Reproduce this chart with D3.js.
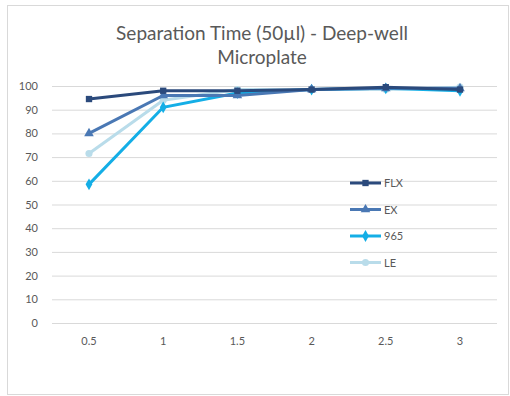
<!DOCTYPE html>
<html>
<head>
<meta charset="utf-8">
<script src="https://cdn.jsdelivr.net/npm/d3@7"></script>
<style>
  body { margin: 0; background: #fff; }
  svg { display: block; font-family: Lato, "Open Sans", sans-serif; }
</style>
</head>
<body>
<script>
// values
var times = ['0.5', '1', '1.5', '2', '2.5', '3'];
var flx = [94.5, 98, 98, 98.5, 99.5, 98.5];
var ex = [80, 96, 96, 98.5, 99, 99];
var s965 = [58.5, 91, 97, 98.5, 99, 98];
var le = [71.5, 94, 98.5, 98.5, 98.5, 99.5];
var yTicks = [0, 10, 20, 30, 40, 50, 60, 70, 80, 90, 100];

var series = [
  { name: 'FLX', values: flx, color: '#2b4a7c', marker: 'square' },
  { name: 'EX', values: ex, color: '#4a78b4', marker: 'triangle' },
  { name: '965', values: s965, color: '#14aee6', marker: 'diamond' },
  { name: 'LE', values: le, color: '#b9dcea', marker: 'circle' }
];

var width = 510, height = 396;
var svg = d3.select('body').append('svg')
  .attr('width', width)
  .attr('height', height);

svg.append('rect')
  .attr('x', 7.5).attr('y', 5.5)
  .attr('width', 501).attr('height', 389)
  .attr('fill', '#fff')
  .attr('stroke', '#d9d9d9');

// title
svg.append('text')
  .attr('x', 262).attr('y', 40)
  .attr('text-anchor', 'middle')
  .attr('font-size', 19).attr('fill', '#595959')
  .text('Separation Time (50µl) - Deep-well');
svg.append('text')
  .attr('x', 262).attr('y', 64)
  .attr('text-anchor', 'middle')
  .attr('font-size', 19).attr('fill', '#595959')
  .text('Microplate');

var x = d3.scalePoint().domain(times).range([89, 460]);
var y = d3.scaleLinear().domain([0, 100]).range([323, 86]);

// gridlines
svg.append('g').selectAll('line').data(yTicks).enter().append('line')
  .attr('x1', 52).attr('x2', 497)
  .attr('y1', function(d) { return y(d) + 0.5; })
  .attr('y2', function(d) { return y(d) + 0.5; })
  .attr('stroke', '#d9d9d9');

// y labels
svg.append('g').selectAll('text').data(yTicks).enter().append('text')
  .attr('x', 38)
  .attr('y', function(d) { return y(d) + 4; })
  .attr('text-anchor', 'end')
  .attr('font-size', 11).attr('fill', '#595959')
  .text(function(d) { return d; });

// x labels
svg.append('g').selectAll('text').data(times).enter().append('text')
  .attr('x', function(d) { return x(d); })
  .attr('y', 345)
  .attr('text-anchor', 'middle')
  .attr('font-size', 11).attr('fill', '#595959')
  .text(function(d) { return d; });

var line = d3.line()
  .x(function(d, i) { return x(times[i]); })
  .y(function(d) { return y(d); });

var symbolFor = {
  square: d3.symbolSquare,
  triangle: d3.symbolTriangle,
  diamond: d3.symbolDiamond,
  circle: d3.symbolCircle
};

// draw in reverse so FLX ends on top
series.slice().reverse().forEach(function(s) {
  var g = svg.append('g');
  g.append('path')
    .datum(s.values)
    .attr('d', line)
    .attr('fill', 'none')
    .attr('stroke', s.color)
    .attr('stroke-width', 3);
  g.selectAll('path.m').data(s.values).enter().append('path')
    .attr('class', 'm')
    .attr('transform', function(d, i) { return 'translate(' + x(times[i]) + ',' + y(d) + ')'; })
    .attr('d', d3.symbol().type(symbolFor[s.marker]).size(40))
    .attr('fill', s.color);
});

// legend
var leg = svg.append('g').selectAll('g').data(series).enter().append('g')
  .attr('transform', function(d, i) { return 'translate(350,' + (183 + i * 26.5) + ')'; });
leg.append('line')
  .attr('x1', 0).attr('x2', 31)
  .attr('stroke', function(d) { return d.color; })
  .attr('stroke-width', 3);
leg.append('path')
  .attr('transform', 'translate(15.5,0)')
  .attr('d', function(d) { return d3.symbol().type(symbolFor[d.marker]).size(40)(); })
  .attr('fill', function(d) { return d.color; });
leg.append('text')
  .attr('x', 34).attr('y', 4)
  .attr('font-size', 11).attr('fill', '#595959')
  .text(function(d) { return d.name; });
</script>
</body>
</html>
